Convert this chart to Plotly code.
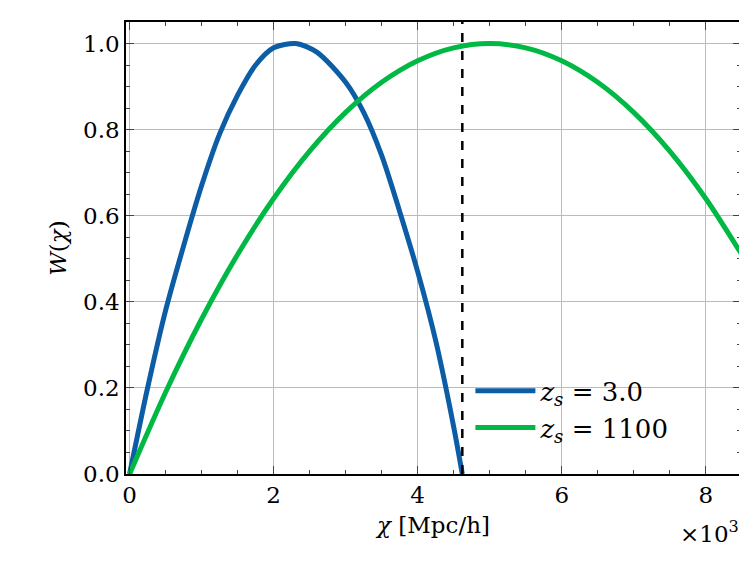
import plotly.graph_objects as go

# chi in units of 10^3 Mpc/h
chi_blue = [0, 0.25, 0.5, 0.75, 1.0, 1.25, 1.5, 1.75, 2.0, 2.31, 2.6, 3.0, 3.25, 3.5, 3.75, 4.0, 4.25, 4.5, 4.62]
w_blue = [0, 0.2, 0.38, 0.53, 0.67, 0.79, 0.88, 0.95, 0.99, 1.0, 0.98, 0.91, 0.84, 0.74, 0.61, 0.47, 0.31, 0.11, 0]
chi_green = [0, 0.5, 1.0, 1.5, 2.0, 2.5, 3.0, 3.5, 4.0, 4.5, 5.0, 5.5, 6.0, 6.5, 7.0, 7.5, 8.0, 8.5]
w_green = [0, 0.19, 0.36, 0.51, 0.64, 0.75, 0.84, 0.91, 0.96, 0.99, 1.0, 0.99, 0.96, 0.91, 0.84, 0.75, 0.64, 0.51]
chi_star = 4.62

font = dict(family="DejaVu Serif", size=23, color="black")
fig = go.Figure()
fig.add_trace(go.Scatter(x=chi_blue, y=w_blue, mode="lines", line=dict(color="#0C5DA5", width=5, shape="spline", smoothing=0.8),
                         name="<i>z<sub>s</sub></i> = 3.0"))
fig.add_trace(go.Scatter(x=chi_green, y=w_green, mode="lines", line=dict(color="#00B945", width=5, shape="spline", smoothing=0.8),
                         name="<i>z<sub>s</sub></i> = 1100"))
fig.add_shape(type="line", x0=chi_star, x1=chi_star, y0=0, y1=1, yref="paper",
              line=dict(color="black", width=2.5, dash="dash"))

ax = dict(showline=True, linecolor="black", linewidth=1.5, mirror="ticks", ticks="inside", ticklen=8,
          tickwidth=1.2, showgrid=True, gridcolor="#bbbbbb", gridwidth=1, zeroline=False,
          minor=dict(ticks="inside", ticklen=4, showgrid=False), tickfont=font)
fig.update_xaxes(ax, range=[-0.05, 8.49], dtick=2, minor_dtick=0.5,
                 title=dict(text="<i>χ</i> [Mpc/h]", font=font, standoff=10))
fig.update_yaxes(ax, range=[0, 1.05], dtick=0.2, minor_dtick=0.05, tickformat=".1f",
                 title=dict(text="<i>W</i>(<i>χ</i>)", font=font, standoff=10))
fig.add_annotation(text="×10<sup>3</sup>", x=1.0, y=-0.09, xref="paper", yref="paper",
                   xanchor="right", yanchor="top", showarrow=False, font=font)
fig.update_layout(width=747, height=571, paper_bgcolor="white", plot_bgcolor="white",
                  margin=dict(l=118, r=14, t=12, b=105), font=font,
                  legend=dict(x=0.56, y=0.05, xanchor="left", yanchor="bottom", bgcolor="rgba(0,0,0,0)",
                              itemwidth=60, font=dict(family="DejaVu Serif", size=26)))
fig.write_html("out.html")
